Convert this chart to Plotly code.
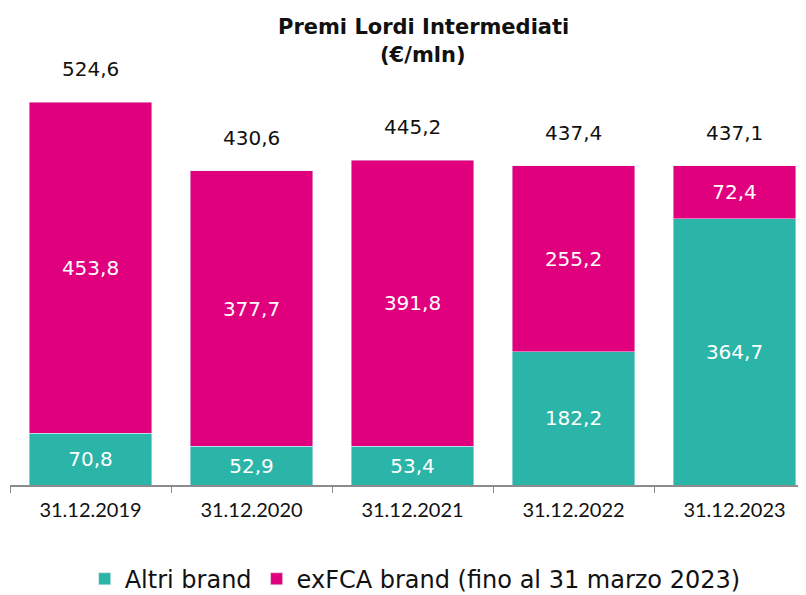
import plotly.graph_objects as go

categories = ["31.12.2019", "31.12.2020", "31.12.2021", "31.12.2022", "31.12.2023"]
altri = [70.8, 52.9, 53.4, 182.2, 364.7]
exfca = [453.8, 377.7, 391.8, 255.2, 72.4]
totals = [524.6, 430.6, 445.2, 437.4, 437.1]
altri_labels = ["70,8", "52,9", "53,4", "182,2", "364,7"]
exfca_labels = ["453,8", "377,7", "391,8", "255,2", "72,4"]
total_labels = ["524,6", "430,6", "445,2", "437,4", "437,1"]
title_lines = ["Premi Lordi Intermediati", "(€/mln)"]

TEAL = "#2BB5A8"
PINK = "#E0007E"
VAL_FONT = "DejaVu Sans"
TICK_FONT = "Lato"

fig = go.Figure()
fig.add_trace(go.Bar(
    x=categories, y=altri, name="Altri brand", marker_color=TEAL,
    text=altri_labels, textposition="inside", insidetextanchor="middle",
    textfont=dict(color="white", size=20, family=VAL_FONT), textangle=0,
))
fig.add_trace(go.Bar(
    x=categories, y=exfca, name="exFCA brand (fino al 31 marzo 2023)", marker_color=PINK,
    text=exfca_labels, textposition="inside", insidetextanchor="middle",
    textfont=dict(color="white", size=20, family=VAL_FONT), textangle=0,
))

for c, t, lab in zip(categories, totals, total_labels):
    fig.add_annotation(x=c, y=t, text=lab, showarrow=False, yanchor="middle",
                       yshift=33, font=dict(size=20, color="#111", family=VAL_FONT))

for yy, line in zip([1.0457, 0.982], title_lines):
    fig.add_annotation(xref="paper", yref="paper", x=0.519, y=yy, text="<b>" + line + "</b>",
                       showarrow=False, xanchor="center", yanchor="middle",
                       font=dict(size=21, color="#111", family=VAL_FONT))

fig.update_layout(
    width=798, height=587,
    barmode="stack", bargap=0.24,
    plot_bgcolor="white", paper_bgcolor="white",
    margin=dict(l=2, r=0, t=39, b=110, autoexpand=False),
    font=dict(family=VAL_FONT, color="#111"),
    legend=dict(orientation="h", x=0.509, xanchor="center", y=-0.215, yanchor="middle",
                font=dict(size=24, family=VAL_FONT, color="#111"), traceorder="normal",
                itemwidth=30),
    showlegend=True,
)
fig.update_xaxes(type="category", range=[-0.5, 4.444], showline=True, linecolor="#8c8c8c",
                 linewidth=1.5, ticks="outside", tickson="boundaries", ticklen=6,
                 tickcolor="#8c8c8c", tickfont=dict(size=20, family=TICK_FONT, color="#111"),
                 ticklabelstandoff=6, showgrid=False, automargin=False)
fig.update_yaxes(range=[0, 600], visible=False, showgrid=False, automargin=False)

fig.write_html("out.html")
